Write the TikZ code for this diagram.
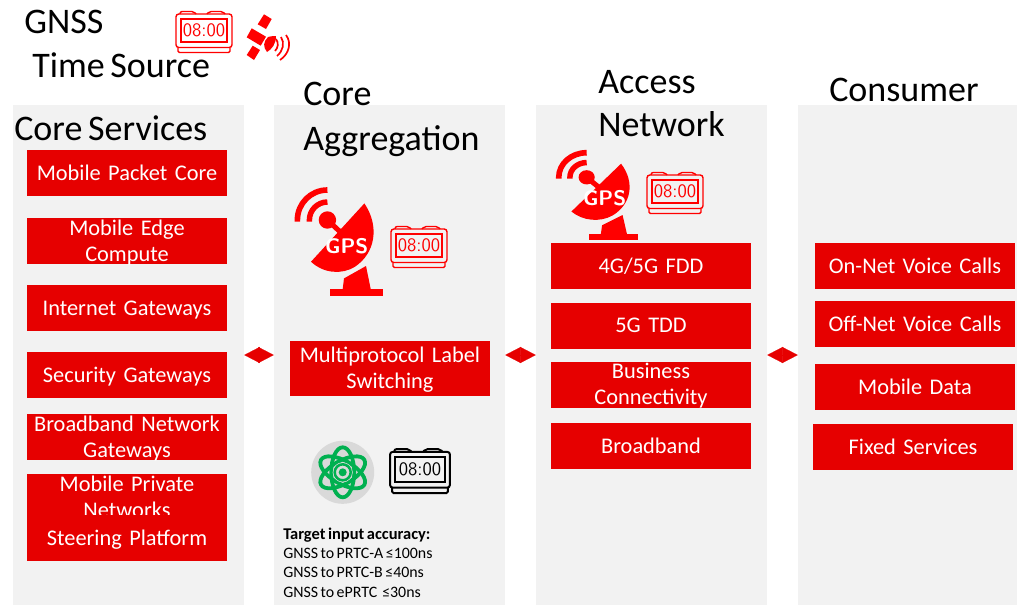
\documentclass[tikz,border=0pt]{standalone}
\usepackage{fontspec}
\setmainfont{Carlito}[WordSpace=0.7]
\usetikzlibrary{arrows.meta}

\definecolor{vfred}{HTML}{E60000}
\definecolor{iconred}{HTML}{FF0000}
\definecolor{panelgrey}{HTML}{F2F2F2}
\definecolor{atomgreen}{HTML}{00B050}
\definecolor{atomgrey}{HTML}{D9D9D9}

\tikzset{
  panel/.style={fill=panelgrey,minimum width=231*0.711pt,minimum height=500*0.711pt,inner sep=0pt},
  svcbox/.style={fill=vfred,text=white,minimum width=200*0.711pt,minimum height=46*0.711pt,
    inner sep=0pt,text width=200*0.711pt,align=center,font=\fontsize{15.9}{18.5}\selectfont},
  oneline/.style={svcbox,text depth=0pt},
  twolines/.style={svcbox,text depth=19pt},
  heading/.style={anchor=base west,inner sep=0pt,font=\fontsize{25.6}{30}\selectfont},
  note/.style={anchor=base west,inner sep=0pt,font=\fontsize{11.3}{12}\selectfont},
  link/.style={{Triangle[length=11pt,width=11.4pt]}-{Triangle[length=11pt,width=11.4pt]},draw=vfred,line width=0.1pt},
  clock/.pic={
    \draw[#1,pic actions,rounded corners=1.5] (-24,-17) -- (-24,-19.5) -- (-10,-19.5) -- (-8,-17);
    \draw[#1,pic actions,rounded corners=1.5] (3,-17) -- (5,-19.5) -- (19,-19.5) -- (21,-17);
    \draw[#1,pic actions,rounded corners=2] (-28,-17) rectangle (28,16.5);
    \draw[#1,pic actions] (-23,-12) rectangle (23,11);
    \draw[#1,pic actions,rounded corners=1] (-26,16.5) -- (-26,21.5) -- (26,21.5) -- (26,16.5);
    \node[inner sep=0pt,text=#1] at (0,-0.5) {\fontsize{13.5}{13.5}\selectfont\sffamily 08:00};
  },
  dish/.pic={
    \fill[iconred] (27.7,-33.3) .. controls (43.3,-10) and (38.3,16.7) .. (18.3,30)
      .. controls (5,38.3) and (-13.3,36.7) .. (-25.7,25) -- cycle;
    \fill[iconred] (-9.3,-16.7) circle[radius=8.7];
    \draw[iconred,line width=3.6pt] (-9.3,-16.7) -- (3.3,-5);
    \draw[iconred,line width=3.9pt] (-27.3,-15) -- (-27.3,-16.7) .. controls (-27.3,-26.6) and (-19.2,-34.7) .. (-9.3,-34.7);
    \draw[iconred,line width=4pt] (-39.3,-15) -- (-39.3,-16.7) .. controls (-39.3,-33.3) and (-25.9,-46.7) .. (-9.3,-46.7);
    \fill[iconred] (6,52.3) -- (7.3,41.7) -- (29.3,29.3) -- (34,52.3) -- cycle;
    \fill[iconred] (-6.7,52.3) rectangle (46,59.3);
    \node[inner sep=0pt,text=white] at (10,9.3) {\fontsize{15}{15}\selectfont\bfseries\sffamily GPS};
  },
  sat/.pic={
    \fill[iconred] (264,14.3) -- (271.7,19) -- (266,29) -- (257.7,24.3) -- cycle;
    \fill[iconred] (251.7,28.3) -- (266,36.7) -- (260.7,45.7) -- (246.7,37.3) -- cycle;
    \fill[iconred] (252.7,45.7) -- (260,50) -- (254,60) -- (246.7,55) -- cycle;
    \fill[iconred] (268,37) .. controls (272,36) and (274,36) .. (276,36)
      .. controls (276,44) and (272,49) .. (267,52) .. controls (263,47) and (263,42) .. (268,37) -- cycle;
    \draw[iconred,line width=1.2pt] (276,39) .. controls (279,43) and (278,48) .. (275,51);
    \draw[iconred,line width=1.2pt] (281,37) .. controls (285,43) and (283,51) .. (277,56);
    \draw[iconred,line width=1.2pt] (286,35) .. controls (292,43) and (289,54) .. (280,60);
  },
  atom/.pic={
    \fill[atomgrey] (0,0) circle[radius=31.5];
    \foreach \ang in {30,90,150}
      \draw[atomgreen,line width=2.7pt,rotate=\ang] (0,0) ellipse[x radius=25,y radius=11.5];
    \fill[atomgrey] (0,0) circle[radius=10];
    \draw[atomgreen,line width=1.8pt] (0,0) circle[radius=8];
    \fill[atomgreen] (0,0) circle[radius=4];
  }
}

\begin{document}
\begin{tikzpicture}[x=0.711pt,y=-0.711pt]
  \useasboundingbox (0,0) rectangle (1017,605);

  % columns
  \node[panel] (services) at (128.5,355) {};
  \node[panel] (aggregation) at (389.5,355) {};
  \node[panel] (access) at (651.5,355) {};
  \node[panel,minimum width=219*0.711pt] (consumer) at (907.5,355) {};

  \draw[link] (services) -- (aggregation);
  \draw[link] (aggregation) -- (access);
  \draw[link] (access) -- (consumer);

  % headings
  \node[heading] (gnss) at (24,33) {GNSS};
  \node[heading] (timesource) at (32,77) {Time Source};
  \node[heading] (coreservices) at (14,140) {Core Services};
  \node[heading] (core) at (303,105) {Core};
  \node[heading] (aggr) at (303,150) {Aggregation};
  \node[heading] (acc) at (598,93) {Access};
  \node[heading] (net) at (598,136) {Network};
  \node[heading] (cons) at (829,101) {Consumer};

  % core services
  \node[oneline] (packet) at (127,173) {Mobile Packet Core};
  \node[twolines,below of=packet,node distance=68*0.711pt] (edge) {Mobile Edge\\Compute};
  \node[oneline,below of=edge,node distance=67*0.711pt] (inet) {Internet Gateways};
  \node[oneline,below of=inet,node distance=67*0.711pt] (secgw) {Security Gateways};
  \node[twolines,below of=secgw,node distance=62*0.711pt] (bng) {Broadband Network\\Gateways};
  \node[twolines,below of=bng,node distance=60*0.711pt] (private) {Mobile Private\\Networks};
  \node[oneline,below of=private,node distance=41*0.711pt] (steering) {Steering Platform};

  % aggregation
  \node[twolines,minimum height=55*0.711pt] (mpls) at (390,368.5) {Multiprotocol Label\\Switching};
  \path (336.7,236.7) pic {dish};
  \path[line width=1pt] (419,246) pic {clock=iconred};
  \path (342.7,472.3) pic {atom};
  \path[line width=1.4pt] (420,470) pic[scale=1.07] {clock=black};
  \node[note,font=\fontsize{11.7}{12}\selectfont\bfseries] (target) at (283,539) {Target input accuracy:};
  \node[note] (prtca) at (283,558) {GNSS to PRTC-A ≤100ns};
  \node[note] (prtcb) at (283,577) {GNSS to PRTC-B ≤40ns};
  \node[note] (eprtc) at (283,597) {GNSS to ePRTC\ \ ≤30ns};

  % access
  \path (595.3,191) pic[xscale=.93,yscale=.82] {dish};
  \path[line width=1pt] (675,192) pic {clock=iconred};
  \node[oneline] (fdd) at (651,265.5) {4G/5G FDD};
  \node[oneline,below of=fdd,node distance=60*0.711pt] (tdd) {5G TDD};
  \node[twolines,below of=tdd,node distance=59*0.711pt] (business) {Business\\Connectivity};
  \node[oneline,below of=business,node distance=61*0.711pt] (broadband) {Broadband};

  % consumer
  \node[oneline] (onnet) at (915,265.5) {On-Net Voice Calls};
  \node[oneline,below of=onnet,node distance=58*0.711pt] (offnet) {Off-Net Voice Calls};
  \node[oneline,below of=offnet,node distance=63*0.711pt] (mobdata) {Mobile Data};
  \node[oneline,below of=mobdata,node distance=60*0.711pt,xshift=-2*0.711pt] (fixed) {Fixed Services};

  % time source
  \path[line width=1pt] (204,31) pic {clock=iconred};
  \path (0,0) pic {sat};
\end{tikzpicture}
\end{document}
